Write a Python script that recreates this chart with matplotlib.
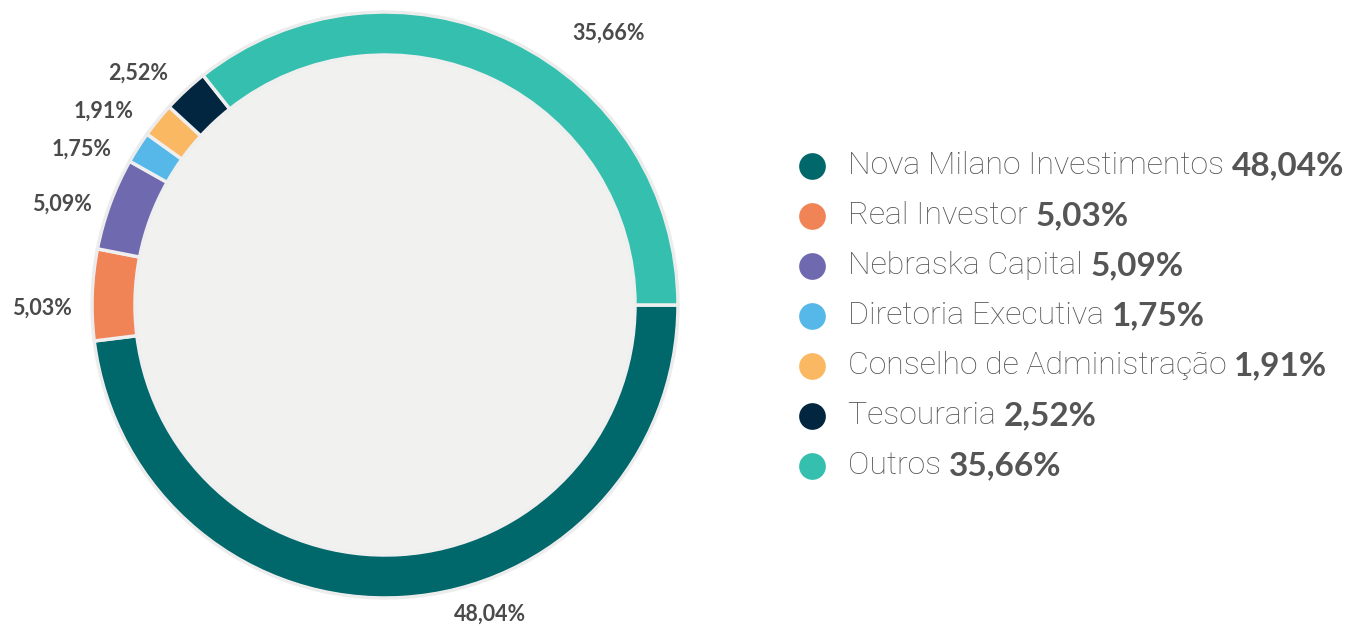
import matplotlib
matplotlib.use("Agg")
import matplotlib.pyplot as plt
from matplotlib.patches import Circle

# data
names = ["Nova Milano Investimentos", "Real Investor", "Nebraska Capital",
         "Diretoria Executiva", "Conselho de Administração", "Tesouraria", "Outros"]
shares = [48.04, 5.03, 5.09, 1.75, 1.91, 2.52, 35.66]
share_labels = ["48,04%", "5,03%", "5,09%", "1,75%", "1,91%", "2,52%", "35,66%"]
colors = ["#00686b", "#f08456", "#6f69b0", "#56b8e8", "#fbb862", "#022640", "#34bfae"]

# layout (pixel coords, y from bottom)
W, H = 1361, 626
cx, cy, R, ring = 385, 321, 293, 43
label_pos = [(490, 12), (42, 318), (62, 422), (82, 477), (104, 515), (138, 553), (609, 593)]
leg_x, leg_y0, leg_dy = 812, 460, 50

fig = plt.figure(figsize=(W / 100., H / 100.), dpi=100)
ax = fig.add_axes([0, 0, 1, 1])

ax.add_patch(Circle((cx, cy), R - ring, color="#f1f1f0", zorder=1))
ax.pie(shares, colors=colors, startangle=0, counterclock=False, center=(cx, cy),
       radius=R, wedgeprops=dict(width=ring, edgecolor="#efefef", linewidth=2.5),
       frame=True)
ax.add_patch(Circle((cx, cy), R, fill=False, edgecolor="#ececec", lw=1.5, zorder=5))
ax.set_xlim(0, W)
ax.set_ylim(0, H)
ax.set_aspect("equal")
ax.axis("off")

for (x, y), lab in zip(label_pos, share_labels):
    ax.text(x, y, lab, ha="center", va="center", fontsize=15.5, fontweight="bold",
            family="Lato", color="#4a4a4a")

fig.canvas.draw()
renderer = fig.canvas.get_renderer()
for i, (n, lab, c) in enumerate(zip(names, share_labels, colors)):
    y = leg_y0 - i * leg_dy
    ax.scatter([leg_x], [y], s=370, color=c, zorder=6, linewidths=0)
    t = ax.text(leg_x + 36, y, n + " ", ha="left", va="center", fontsize=23,
                family="Roboto", fontweight="light", color="#555555")
    bb = t.get_window_extent(renderer=renderer)
    ax.text(bb.x1, y, lab, ha="left", va="center", fontsize=24,
            family="Lato", fontweight="bold", color="#555555")

fig.savefig("out.png", dpi=100)
